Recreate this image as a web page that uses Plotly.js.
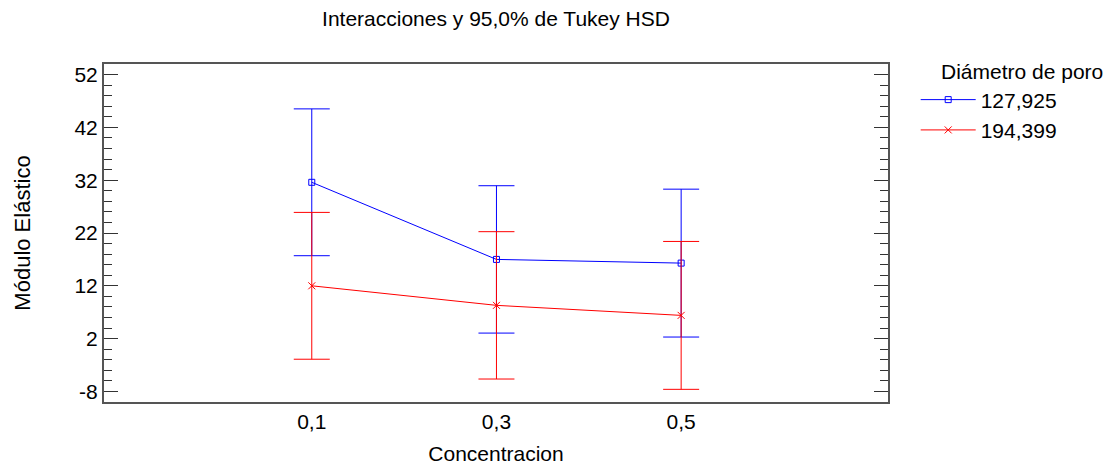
<!DOCTYPE html>
<html>
<head>
<meta charset="utf-8">
<script src="https://cdn.plot.ly/plotly-3.0.1.min.js"></script>
<style>html,body{margin:0;padding:0;background:#fff;}#chart{width:1117px;height:466px;}</style>
</head>
<body>
<div id="chart"></div>
<script>
var concentracion = [0.1, 0.3, 0.5];
var xTickLabels = ["0,1", "0,3", "0,5"];
var yTickVals = [-8, 2, 12, 22, 32, 42, 52];
var yTickLabels = ["-8", "2", "12", "22", "32", "42", "52"];
var serieNames = ["127,925", "194,399"];
var media127 = [31.6, 17.0, 16.3];
var error127 = [13.9, 13.95, 14.0];
var media194 = [12.0, 8.3, 6.4];
var error194 = [13.9, 13.95, 14.0];

var font = "Liberation Sans, Arial, sans-serif";

var traces = [
  {
    x: concentracion, y: media127, name: serieNames[0], type: "scatter", mode: "lines+markers",
    line: {color: "#0000ff", width: 1},
    marker: {symbol: "square-open", size: 6, color: "#0000ff", line: {width: 1, color: "#0000ff"}},
    error_y: {type: "data", array: error127, visible: true, color: "#0000ff", thickness: 1, width: 18}
  },
  {
    x: concentracion, y: media194, name: serieNames[1], type: "scatter", mode: "lines+markers",
    line: {color: "#ff0000", width: 1},
    marker: {symbol: "x-thin-open", size: 7, color: "#ff0000", line: {width: 1, color: "#ff0000"}},
    error_y: {type: "data", array: error194, visible: true, color: "#ff0000", thickness: 1, width: 18}
  }
];

var layout = {
  width: 1117, height: 466,
  margin: {l: 104, r: 228, t: 64, b: 64},
  paper_bgcolor: "#fff", plot_bgcolor: "#fff",
  font: {family: font, size: 21, color: "#000"},
  title: {text: "Interacciones y 95,0% de Tukey HSD", font: {size: 21, family: font, color: "#000"}, x: 0.5, xref: "paper", xanchor: "center", y: 0.96, yref: "container", yanchor: "middle"},
  xaxis: {
    range: [-0.125, 0.724], tickvals: concentracion, ticktext: xTickLabels,
    ticks: "", showgrid: false, zeroline: false,
    showline: true, linecolor: "#555", linewidth: 2, mirror: true,
    title: {text: "Concentracion", font: {size: 21}, standoff: 14},
    tickfont: {size: 21}
  },
  yaxis: {
    range: [-10, 54], tickvals: yTickVals, ticktext: yTickLabels,
    ticks: "inside", ticklen: 14, tickwidth: 1, tickcolor: "#333",
    minor: {dtick: 2, tick0: 0, ticks: "inside", ticklen: 8, tickwidth: 1, tickcolor: "#333", showgrid: false},
    showgrid: false, zeroline: false,
    showline: true, linecolor: "#555", linewidth: 2, mirror: "ticks",
    title: {text: "Módulo Elástico", font: {size: 22}, standoff: 38},
    tickfont: {size: 21}
  },
  showlegend: true,
  legend: {
    x: 1.034, xanchor: "left", y: 1.035, yanchor: "top",
    title: {text: "\u00a0\u00a0\u00a0\u00a0Diámetro de poro", font: {size: 21}},
    font: {size: 21}, tracegroupgap: 0, itemwidth: 55,
    bgcolor: "rgba(0,0,0,0)"
  }
};

Plotly.newPlot("chart", traces, layout, {displayModeBar: false, staticPlot: true});
</script>
</body>
</html>
